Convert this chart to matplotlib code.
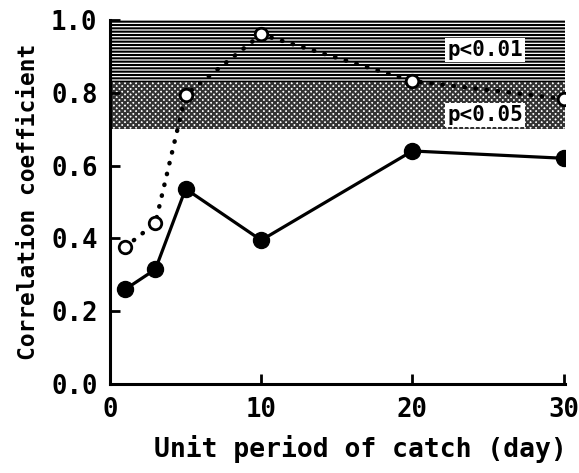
import matplotlib
matplotlib.use('Agg')
import matplotlib.pyplot as plt

# unit period of catch (day)
days = [1, 3, 5, 10, 20, 30]
r_filled = [0.26, 0.315, 0.536, 0.395, 0.64, 0.62]
r_open = [0.376, 0.442, 0.794, 0.96, 0.832, 0.783]

# significance bands
p05_band = [0.70, 0.83]
p01_band = [0.83, 1.00]

xticks = [0, 10, 20, 30]
yticks = [0.0, 0.2, 0.4, 0.6, 0.8, 1.0]

plt.rcParams['hatch.linewidth'] = 1.5
font = 'DejaVu Sans Mono'

fig = plt.figure(figsize=(5.79, 4.73), dpi=100)
ax = fig.add_axes([0.19, 0.188, 0.786, 0.77])

ax.axhspan(p05_band[0], p05_band[1], facecolor='white', edgecolor='#333333',
           hatch='xxxxxx', linewidth=0, zorder=0)
ax.axhspan(p01_band[0], p01_band[1], facecolor='white', edgecolor='black',
           hatch='-----', linewidth=0, zorder=0)

ax.text(24.8, 0.918, 'p<0.01', family=font, fontweight='bold', fontsize=15,
        ha='center', va='center', zorder=3,
        bbox=dict(facecolor='white', edgecolor='none', pad=1.5))
ax.text(24.8, 0.738, 'p<0.05', family=font, fontweight='bold', fontsize=15,
        ha='center', va='center', zorder=3,
        bbox=dict(facecolor='white', edgecolor='none', pad=1.5))

ax.plot(days, r_open, color='black', linestyle=(0, (0.1, 2.4)), linewidth=3.2,
        dash_capstyle='round', marker='o', markersize=9, markerfacecolor='white',
        markeredgewidth=2, markeredgecolor='black', zorder=4)
ax.plot(days, r_filled, color='black', linewidth=2.3, marker='o',
        markersize=11.5, markerfacecolor='black', zorder=5)

ax.set_xlim(0, 30.1)
ax.set_ylim(0, 1.0)
ax.set_xticks(xticks)
ax.set_yticks(yticks)
ax.set_xticklabels([str(t) for t in xticks], family=font, fontweight='bold', fontsize=18.5)
ax.set_yticklabels(['%.1f' % t for t in yticks], family=font, fontweight='bold', fontsize=18.5)
ax.tick_params(direction='in', length=7, width=2, pad=9)

for s in ['top', 'right']:
    ax.spines[s].set_visible(False)
for s in ['left', 'bottom']:
    ax.spines[s].set_linewidth(2.2)

ax.set_xlabel('Unit period of catch (day)', family=font, fontweight='bold',
              fontsize=19)
ax.xaxis.set_label_coords(0.55, -0.14)
ax.set_ylabel('Correlation coefficient', family=font, fontweight='bold',
              fontsize=16.5, labelpad=8)

fig.savefig('out.png', dpi=100)
